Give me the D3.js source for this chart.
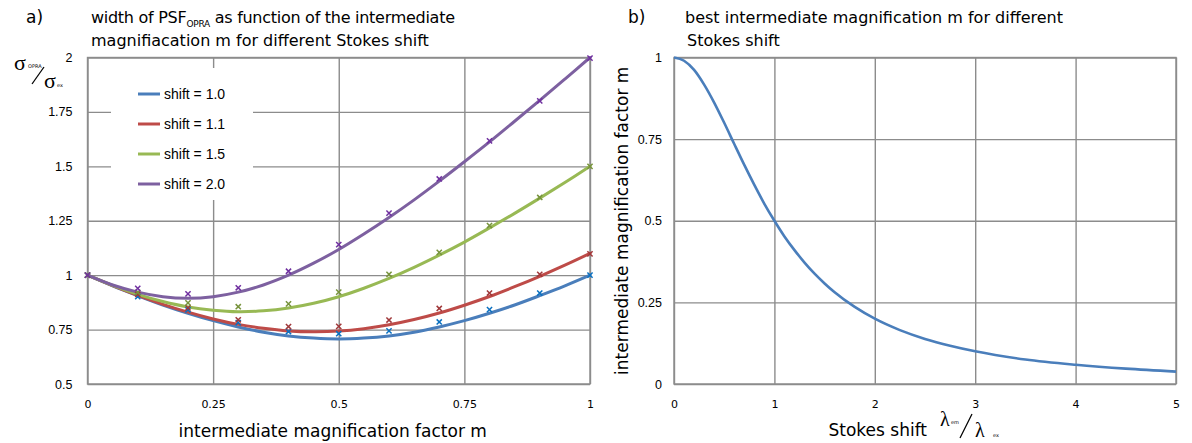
<!DOCTYPE html>
<html><head><meta charset="utf-8">
<script src="https://cdn.jsdelivr.net/npm/d3@7"></script>
<style>body{margin:0;background:#fff}</style>
</head><body><svg id="c" width="1192" height="443"></svg>
<script>
// ---------- data ----------
// panel a: smooth model curves
const mGrid   = [0,0.05,0.1,0.15,0.2,0.25,0.3,0.35,0.4,0.45,0.5,0.55,0.6,0.65,0.7,0.75,0.8,0.85,0.9,0.95,1];
const curveS10 = [1,0.951,0.906,0.863,0.825,0.791,0.762,0.738,0.721,0.711,0.707,0.711,0.721,0.738,0.762,0.791,0.825,0.863,0.906,0.951,1.0];
const curveS11 = [1,0.952,0.907,0.866,0.830,0.799,0.774,0.756,0.744,0.740,0.743,0.754,0.772,0.796,0.826,0.862,0.902,0.947,0.995,1.046,1.1];
const curveS15 = [1,0.953,0.912,0.879,0.854,0.839,0.832,0.836,0.849,0.871,0.901,0.940,0.985,1.036,1.092,1.152,1.217,1.284,1.354,1.426,1.5];
const curveS20 = [1,0.955,0.922,0.901,0.894,0.901,0.922,0.955,1.0,1.055,1.118,1.189,1.265,1.346,1.432,1.521,1.612,1.707,1.803,1.901,2.0];
// panel a: simulated points (x markers)
const mSim   = [0,0.1,0.2,0.3,0.4,0.5,0.6,0.7,0.8,0.9,1];
const simS10 = [1,0.901,0.841,0.782,0.741,0.731,0.744,0.785,0.842,0.918,1.0];
const simS11 = [1,0.912,0.850,0.795,0.764,0.765,0.794,0.847,0.918,1.004,1.098];
const simS15 = [1,0.921,0.873,0.855,0.868,0.922,1.004,1.105,1.228,1.357,1.5];
const simS20 = [1,0.939,0.914,0.942,1.018,1.140,1.285,1.442,1.617,1.801,1.997];
const seriesNames = ["shift = 1.0","shift = 1.1","shift = 1.5","shift = 2.0"];
// panel a ticks
const xTicksA = [0,0.25,0.5,0.75,1];
const xTickLabelsA = ["0","0.25","0.5","0.75","1"];
const yTicksA = [0.5,0.75,1,1.25,1.5,1.75,2];
const yTickLabelsA = ["0.5","0.75","1","1.25","1.5","1.75","2"];
// panel b: best magnification vs Stokes shift
const stokes = [0,0.1,0.2,0.3,0.4,0.5,0.6,0.7,0.8,0.9,1,1.1,1.2,1.3,1.4,1.5,1.6,1.8,2,2.25,2.5,2.75,3,3.5,4,4.5,5];
const bestM  = [1,0.990,0.962,0.917,0.862,0.800,0.735,0.671,0.610,0.552,0.500,0.452,0.410,0.372,0.338,0.308,0.281,0.236,0.200,0.165,0.138,0.117,0.100,0.075,0.059,0.047,0.038];
const xTicksB = [0,1,2,3,4,5];
const xTickLabelsB = ["0","1","2","3","4","5"];
const yTicksB = [0,0.25,0.5,0.75,1];
const yTickLabelsB = ["0","0.25","0.5","0.75","1"];

// ---------- styles ----------
const lineColors = ["#4a7ebb","#be4b48","#98b954","#7d60a0"];
const markColors = ["#0a70c0","#a0383a","#77933c","#7030a0"];
const gridColor = "#8c8c8c";
const titleFont = "DejaVu Sans";
const tickFontX = "DejaVu Sans";
const tickFontY = "Liberation Sans";

const svg = d3.select("#c");
const plotTop = 57.5, plotBottom = 384;

// ---------- panel a ----------
const xA = d3.scaleLinear().domain([0,1]).range([87.5,590]);
const yA = d3.scaleLinear().domain([0.5,2]).range([plotBottom,plotTop]);

function styleAxis(g, font, size){
  g.select(".domain").remove();
  g.selectAll(".tick line").attr("stroke",gridColor).attr("stroke-width",1.4);
  g.selectAll(".tick text").attr("font-family",font).attr("font-size",size).attr("fill","#000");
}

const gxA = svg.append("g").attr("transform",`translate(0,${plotBottom})`)
  .call(d3.axisBottom(xA).tickValues(xTicksA).tickFormat((d,i)=>xTickLabelsA[i])
        .tickSize(-(plotBottom-plotTop)).tickPadding(16));
styleAxis(gxA, tickFontX, 11);
const gyA = svg.append("g").attr("transform",`translate(${xA(0)},0)`)
  .call(d3.axisLeft(yA).tickValues(yTicksA).tickFormat((d,i)=>yTickLabelsA[i])
        .tickSize(-(xA(1)-xA(0))).tickPadding(15));
styleAxis(gyA, tickFontY, 12.5);
svg.append("rect").attr("x",xA(0)).attr("y",yA(2)).attr("width",xA(1)-xA(0)).attr("height",yA(0.5)-yA(2))
  .attr("fill","none").attr("stroke",gridColor).attr("stroke-width",1.4);

// legend background (hides grid)
svg.append("rect").attr("x",111).attr("y",68).attr("width",142).attr("height",132).attr("fill","#fff");

const curves = [curveS10,curveS11,curveS15,curveS20];
const sims = [simS10,simS11,simS15,simS20];
const lineA = d3.line().curve(d3.curveCatmullRom.alpha(0.5));
curves.forEach((c,k)=>{
  svg.append("path").datum(mGrid.map((m,i)=>[xA(m),yA(c[i])]))
    .attr("d",lineA).attr("fill","none").attr("stroke",lineColors[k]).attr("stroke-width",3)
    .attr("stroke-linecap","round");
});
const r = 2.6;
sims.forEach((s,k)=>{
  const g = svg.append("g").attr("stroke",markColors[k]).attr("stroke-width",1.5);
  mSim.forEach((m,i)=>{
    const cx = xA(m), cy = yA(s[i]);
    g.append("path").attr("d",`M${cx-r},${cy-r}L${cx+r},${cy+r}M${cx-r},${cy+r}L${cx+r},${cy-r}`);
  });
});

// legend entries
seriesNames.forEach((n,k)=>{
  const y = 94 + k*30;
  svg.append("line").attr("x1",138).attr("x2",160).attr("y1",y).attr("y2",y)
    .attr("stroke",lineColors[k]).attr("stroke-width",3);
  svg.append("text").attr("x",164).attr("y",y).attr("dy","0.35em")
    .attr("font-family","Liberation Sans").attr("font-size",14).text(n);
});

// titles panel a
svg.append("text").attr("x",26).attr("y",23).attr("font-family",titleFont).attr("font-size",17).text("a)");
const tA = svg.append("text").attr("x",91).attr("y",23).attr("font-family",titleFont).attr("font-size",16)
  .attr("textLength",364).attr("lengthAdjust","spacing");
tA.append("tspan").text("width of PSF");
tA.append("tspan").attr("font-size",9).attr("dy",4).text("OPRA");
tA.append("tspan").attr("dy",-4).text(" as function of the intermediate");
svg.append("text").attr("x",91).attr("y",46).attr("font-family",titleFont).attr("font-size",16)
  .text("magnifiacation m for different Stokes shift");
svg.append("text").attr("x",(xA(0)+xA(1))/2-6).attr("y",437).attr("text-anchor","middle")
  .attr("font-family",titleFont).attr("font-size",17).text("intermediate magnification factor m");
// sigma ratio label
svg.append("text").attr("x",14).attr("y",70).attr("font-family","Liberation Serif").attr("font-size",22).text("σ");
svg.append("text").attr("x",28).attr("y",68).attr("font-family",titleFont).attr("font-size",5).text("OPRA");
svg.append("line").attr("x1",32).attr("y1",84).attr("x2",44).attr("y2",67).attr("stroke","#000").attr("stroke-width",1.3);
svg.append("text").attr("x",44).attr("y",88).attr("font-family","Liberation Serif").attr("font-size",22).text("σ");
svg.append("text").attr("x",57).attr("y",87).attr("font-family",titleFont).attr("font-size",5).text("ex");

// ---------- panel b ----------
const xB = d3.scaleLinear().domain([0,5]).range([674,1176]);
const yB = d3.scaleLinear().domain([0,1]).range([plotBottom,plotTop]);
const gxB = svg.append("g").attr("transform",`translate(0,${plotBottom})`)
  .call(d3.axisBottom(xB).tickValues(xTicksB).tickFormat((d,i)=>xTickLabelsB[i])
        .tickSize(-(plotBottom-plotTop)).tickPadding(16));
styleAxis(gxB, tickFontX, 11);
const gyB = svg.append("g").attr("transform",`translate(${xB(0)},0)`)
  .call(d3.axisLeft(yB).tickValues(yTicksB).tickFormat((d,i)=>yTickLabelsB[i])
        .tickSize(-(xB(5)-xB(0))).tickPadding(12));
styleAxis(gyB, tickFontY, 12.5);
svg.append("rect").attr("x",xB(0)).attr("y",yB(1)).attr("width",xB(5)-xB(0)).attr("height",yB(0)-yB(1))
  .attr("fill","none").attr("stroke",gridColor).attr("stroke-width",1.4);
svg.append("path").datum(stokes.map((s,i)=>[xB(s),yB(bestM[i])]))
  .attr("d",d3.line().curve(d3.curveMonotoneX)).attr("fill","none")
  .attr("stroke",lineColors[0]).attr("stroke-width",2.6);

svg.append("text").attr("x",628).attr("y",23).attr("font-family",titleFont).attr("font-size",17).text("b)");
svg.append("text").attr("x",685).attr("y",23).attr("font-family",titleFont).attr("font-size",16)
  .text("best intermediate magnification m for different");
svg.append("text").attr("x",687).attr("y",46).attr("font-family",titleFont).attr("font-size",16)
  .text("Stokes shift");
svg.append("text").attr("transform",`translate(628,${(plotTop+plotBottom)/2}) rotate(-90)`).attr("text-anchor","middle")
  .attr("font-family",titleFont).attr("font-size",17).text("intermediate magnification factor m");
svg.append("text").attr("x",927).attr("y",436).attr("text-anchor","end")
  .attr("font-family",titleFont).attr("font-size",17).text("Stokes shift");
svg.append("text").attr("x",940).attr("y",426).attr("font-family","Liberation Serif").attr("font-size",20).text("λ");
svg.append("text").attr("x",951).attr("y",424).attr("font-family",titleFont).attr("font-size",5).text("em");
svg.append("line").attr("x1",960).attr("y1",438).attr("x2",972).attr("y2",414).attr("stroke","#000").attr("stroke-width",1.3);
svg.append("text").attr("x",975).attr("y",437).attr("font-family","Liberation Serif").attr("font-size",20).text("λ");
svg.append("text").attr("x",993).attr("y",437).attr("font-family",titleFont).attr("font-size",5).text("ex");
</script></body></html>
